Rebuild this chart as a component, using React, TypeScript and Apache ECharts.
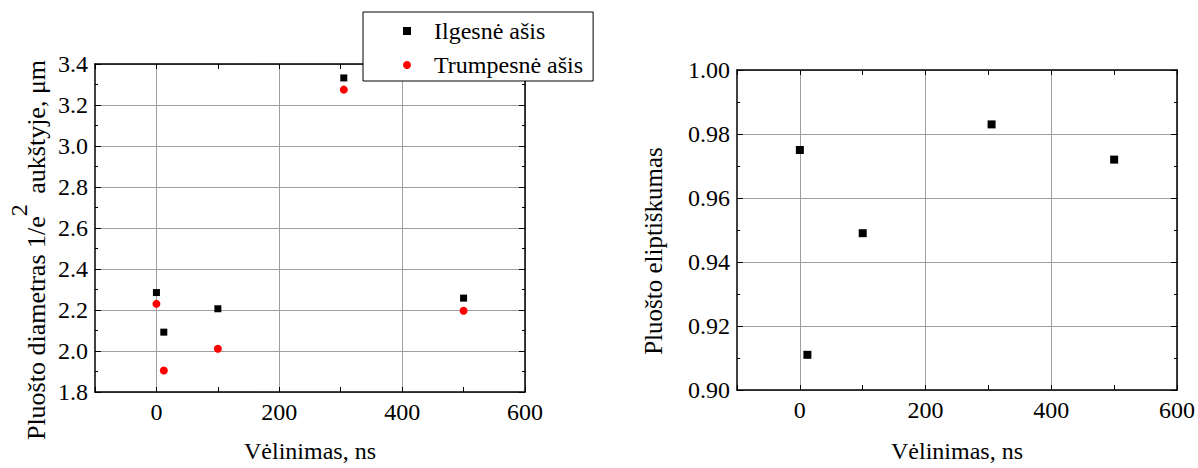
import React, { useEffect, useRef } from 'react';
import * as echarts from 'echarts';

// Delay between pulses (ns) and the measured beam parameters
const delays = [0, 12, 100, 305, 500];
const longAxis = [2.285, 2.092, 2.206, 3.332, 2.258];
const shortAxis = [2.23, 1.905, 2.011, 3.275, 2.196];
const ellipticity = [0.975, 0.911, 0.949, 0.983, 0.972];

const seriesNames = ['Ilgesnė ašis', 'Trumpesnė ašis'];
const xTitle = 'Vėlinimas, ns';
const leftTitleParts = ['Pluošto diametras 1/e', '2', ' aukštyje, μm'];
const rightTitle = 'Pluošto eliptiškumas';

const FONT = 'Liberation Serif';
const GRID_COLOR = '#a0a0a0';

function xAxis(gridIndex: number, position: 'bottom' | 'top', nameGap: number) {
  const bottom = position === 'bottom';
  return {
    type: 'value',
    gridIndex,
    position,
    min: -100,
    max: 600,
    interval: 100,
    name: bottom ? xTitle : '',
    nameLocation: 'middle',
    nameGap,
    nameTextStyle: { fontFamily: FONT, fontSize: 24, color: '#000' },
    axisLine: { show: true, onZero: false, lineStyle: { color: '#000', width: 1.5 } },
    axisTick: { show: true, inside: true, length: 5, lineStyle: { color: '#000', width: 1 } },
    axisLabel: {
      show: bottom,
      margin: 8,
      fontFamily: FONT,
      fontSize: 24,
      color: '#000',
      formatter: (v: number) => (v % 200 === 0 ? String(v) : ''),
    },
    // every other split line is transparent so grid lines fall on 0, 200, 400
    splitLine: {
      show: bottom,
      lineStyle: { color: ['rgba(0,0,0,0)', GRID_COLOR], width: 1 },
    },
  };
}

function yAxis(
  gridIndex: number,
  position: 'left' | 'right',
  min: number,
  max: number,
  interval: number,
  digits: number
) {
  const left = position === 'left';
  return {
    type: 'value',
    gridIndex,
    position,
    min,
    max,
    interval,
    axisLine: { show: true, onZero: false, lineStyle: { color: '#000', width: 1.5 } },
    axisTick: { show: true, inside: true, length: 6, lineStyle: { color: '#000', width: 1 } },
    minorTick: { show: true, splitNumber: 2, length: 3, lineStyle: { color: '#000', width: 1 } },
    axisLabel: {
      show: left,
      margin: 7,
      fontFamily: FONT,
      fontSize: 24,
      color: '#000',
      formatter: (v: number) => v.toFixed(digits),
    },
    splitLine: { show: left, lineStyle: { color: GRID_COLOR, width: 1 } },
    minorSplitLine: { show: false },
  };
}

export default function App() {
  const ref = useRef<HTMLDivElement>(null);

  useEffect(() => {
    document.body.style.margin = '0';
    if (!ref.current) return;
    const chart = echarts.init(ref.current, undefined, { renderer: 'svg' });

    chart.setOption({
      animation: false,
      backgroundColor: '#fff',
      textStyle: { fontFamily: FONT },
      grid: [
        { left: 95, top: 64, width: 430, height: 332 },
        { left: 737, top: 70, width: 440, height: 327 },
      ],
      xAxis: [
        xAxis(0, 'bottom', 47),
        xAxis(0, 'top', 0),
        xAxis(1, 'bottom', 49),
        xAxis(1, 'top', 0),
      ],
      yAxis: [
        yAxis(0, 'left', 1.8, 3.4, 0.2, 1),
        yAxis(0, 'right', 1.8, 3.4, 0.2, 1),
        yAxis(1, 'left', 0.9, 1.0, 0.02, 2),
        yAxis(1, 'right', 0.9, 1.0, 0.02, 2),
      ],
      legend: {
        data: seriesNames,
        orient: 'vertical',
        left: 363,
        top: 12,
        padding: [7, 10, 4, 40],
        itemGap: 10,
        itemWidth: 8,
        itemHeight: 8,
        backgroundColor: '#fff',
        borderColor: '#000',
        borderWidth: 1,
        textStyle: {
          fontFamily: FONT,
          fontSize: 24,
          color: '#000',
          lineHeight: 22,
          padding: [0, 0, 0, 18],
        },
      },
      graphic: [
        {
          type: 'text',
          x: 28,
          y: 250,
          rotation: Math.PI / 2,
          style: {
            text: `{a|${leftTitleParts[0]}}{s|${leftTitleParts[1]}}{a|${leftTitleParts[2]}}`,
            align: 'center',
            verticalAlign: 'middle',
            fontFamily: FONT,
            fontSize: 26,
            fill: '#000',
            rich: {
              a: { fontFamily: FONT, fontSize: 26, fill: '#000', verticalAlign: 'bottom' },
              // raised exponent of 1/e²
              s: {
                fontFamily: FONT,
                fontSize: 24,
                fill: '#000',
                verticalAlign: 'top',
                padding: [0, 4, 19, 0],
              },
            },
          },
        },
        {
          type: 'text',
          x: 653,
          y: 251,
          rotation: Math.PI / 2,
          style: {
            text: rightTitle,
            align: 'center',
            verticalAlign: 'middle',
            fontFamily: FONT,
            fontSize: 25,
            fill: '#000',
          },
        },
      ],
      series: [
        {
          name: seriesNames[0],
          type: 'scatter',
          xAxisIndex: 0,
          yAxisIndex: 0,
          symbol: 'rect',
          symbolSize: 7,
          itemStyle: { color: '#000', opacity: 1 },
          data: delays.map((d, i) => [d, longAxis[i]]),
        },
        {
          name: seriesNames[1],
          type: 'scatter',
          xAxisIndex: 0,
          yAxisIndex: 0,
          symbol: 'circle',
          symbolSize: 8,
          itemStyle: { color: '#ff0000', opacity: 1 },
          data: delays.map((d, i) => [d, shortAxis[i]]),
        },
        {
          name: 'Eliptiškumas',
          type: 'scatter',
          xAxisIndex: 2,
          yAxisIndex: 2,
          symbol: 'rect',
          symbolSize: 8,
          itemStyle: { color: '#000', opacity: 1 },
          data: delays.map((d, i) => [d, ellipticity[i]]),
        },
      ],
    });

    return () => chart.dispose();
  }, []);

  return <div ref={ref} style={{ width: 1198, height: 468 }} />;
}
